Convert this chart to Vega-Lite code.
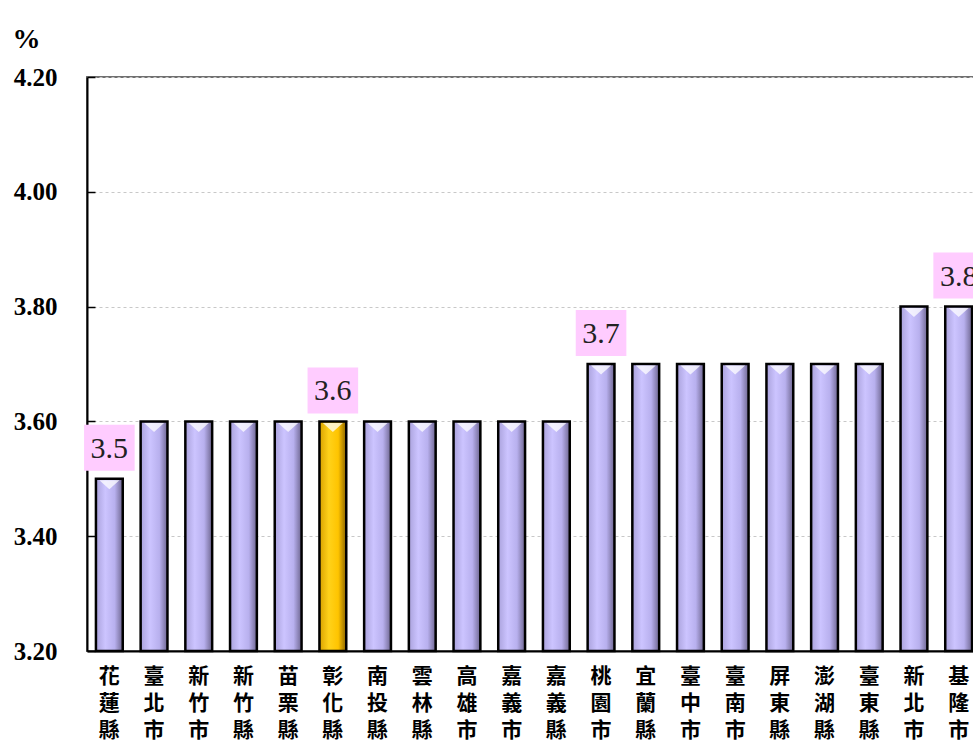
{
  "$schema": "https://vega.github.io/schema/vega-lite/v6.json",
  "autosize": "none",
  "width": 894,
  "height": 574,
  "padding": {"left": 87, "top": 77, "right": 0, "bottom": 94},
  "background": "white",
  "config": {
    "view": {"stroke": "#707070", "strokeWidth": 2},
    "axis": {"labelFont": "Liberation Serif", "titleFont": "Liberation Serif"}
  },
  "data": {
    "values": [
      {"region": "花蓮縣", "rate": 3.5, "label": "3.5", "hl": false},
      {"region": "臺北市", "rate": 3.6, "label": "", "hl": false},
      {"region": "新竹市", "rate": 3.6, "label": "", "hl": false},
      {"region": "新竹縣", "rate": 3.6, "label": "", "hl": false},
      {"region": "苗栗縣", "rate": 3.6, "label": "", "hl": false},
      {"region": "彰化縣", "rate": 3.6, "label": "3.6", "hl": true},
      {"region": "南投縣", "rate": 3.6, "label": "", "hl": false},
      {"region": "雲林縣", "rate": 3.6, "label": "", "hl": false},
      {"region": "高雄市", "rate": 3.6, "label": "", "hl": false},
      {"region": "嘉義市", "rate": 3.6, "label": "", "hl": false},
      {"region": "嘉義縣", "rate": 3.6, "label": "", "hl": false},
      {"region": "桃園市", "rate": 3.7, "label": "3.7", "hl": false},
      {"region": "宜蘭縣", "rate": 3.7, "label": "", "hl": false},
      {"region": "臺中市", "rate": 3.7, "label": "", "hl": false},
      {"region": "臺南市", "rate": 3.7, "label": "", "hl": false},
      {"region": "屏東縣", "rate": 3.7, "label": "", "hl": false},
      {"region": "澎湖縣", "rate": 3.7, "label": "", "hl": false},
      {"region": "臺東縣", "rate": 3.7, "label": "", "hl": false},
      {"region": "新北市", "rate": 3.8, "label": "", "hl": false},
      {"region": "基隆市", "rate": 3.8, "label": "3.8", "hl": false}
    ]
  },
  "encoding": {
    "x": {
      "field": "region", "type": "nominal", "sort": null,
      "scale": {"paddingInner": 0.4, "paddingOuter": 0.2},
      "axis": {
        "title": null, "labelAngle": 0, "ticks": false,
        "domainColor": "#000000", "domainWidth": 2,
        "labelFont": "Noto Sans CJK TC", "labelFontWeight": "bold",
        "labelFontSize": 21, "labelColor": "#000000",
        "labelBaseline": "top", "labelPadding": 14, "labelLineHeight": 27,
        "labelExpr": "split(datum.label, '')"
      }
    },
    "y": {
      "field": "rate", "type": "quantitative",
      "scale": {"domain": [3.2, 4.2], "zero": false, "nice": false},
      "axis": {
        "values": [3.2, 3.4, 3.6, 3.8, 4.0, 4.2],
        "format": ".2f",
        "title": "%", "titleAngle": 0, "titleAlign": "left", "titleBaseline": "middle",
        "titleX": -75, "titleY": -38, "titleFontSize": 28, "titleFontWeight": "bold", "titleColor": "#000000",
        "labelFontSize": 25, "labelFontWeight": "bold", "labelColor": "#000000",
        "labelPadding": 38, "tickSize": -8, "tickColor": "#000000", "tickWidth": 1.5,
        "domainColor": "#000000", "domainWidth": 2,
        "grid": true, "gridColor": "#c8c8c8", "gridDash": [3, 3], "gridWidth": 1
      }
    }
  },
  "layer": [
    {
      "mark": {"type": "bar", "stroke": "#000000", "strokeWidth": 2.5},
      "encoding": {
        "y2": {"datum": 3.2},
        "fill": {
          "condition": {
            "test": "datum.hl",
            "value": {
              "gradient": "linear", "x1": 0, "y1": 0, "x2": 1, "y2": 0,
              "stops": [
                {"offset": 0, "color": "#d9a200"},
                {"offset": 0.35, "color": "#ffd21a"},
                {"offset": 0.7, "color": "#ffc400"},
                {"offset": 1, "color": "#8a6400"}
              ]
            }
          },
          "value": {
            "gradient": "linear", "x1": 0, "y1": 0, "x2": 1, "y2": 0,
            "stops": [
              {"offset": 0, "color": "#aaa2dc"},
              {"offset": 0.35, "color": "#ccc4ff"},
              {"offset": 0.7, "color": "#b8b0ee"},
              {"offset": 1, "color": "#6e6690"}
            ]
          }
        }
      }
    },
    {
      "mark": {"type": "point", "shape": "M-1,-0.45L1,-0.45L0,0.45Z", "size": 400, "filled": true, "color": "#ffffff", "opacity": 0.75, "yOffset": 6}
    },
    {
      "transform": [{"filter": "datum.label != ''"}],
      "mark": {"type": "point", "shape": "M-1.1,-1H1.1V1H-1.1Z", "size": 2116, "filled": true, "color": "#ffccff", "opacity": 1, "yOffset": -31}
    },
    {
      "transform": [{"filter": "datum.label != ''"}],
      "mark": {"type": "text", "font": "Liberation Serif", "fontSize": 30, "color": "#222222", "baseline": "middle", "dy": -30},
      "encoding": {"text": {"field": "label"}}
    }
  ]
}
